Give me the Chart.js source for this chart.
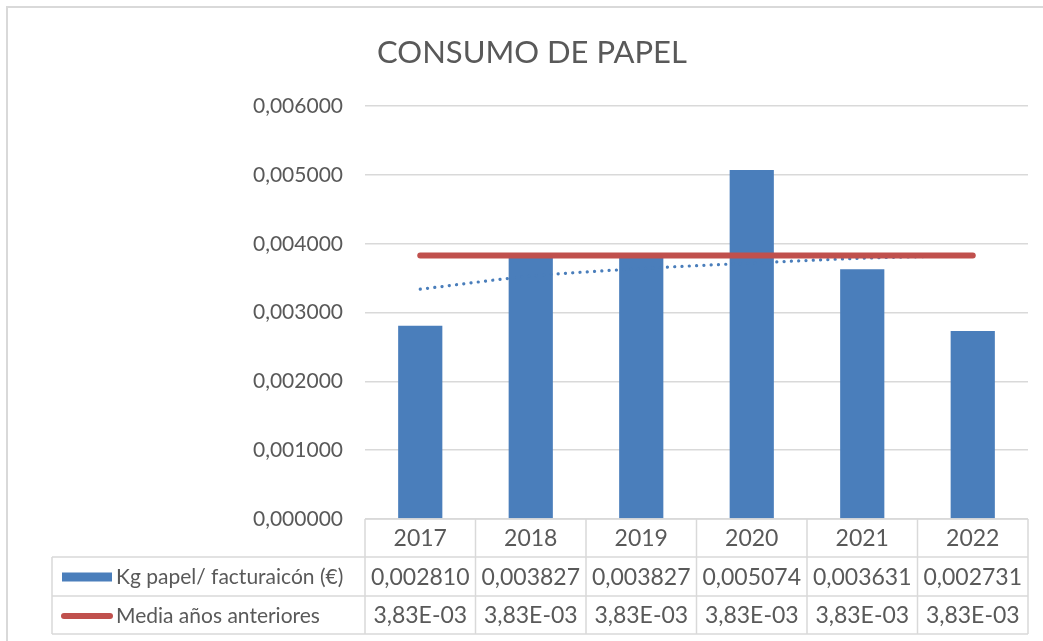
<!DOCTYPE html>
<html lang="es">
<head>
    <meta charset="UTF-8">
    <title>Consumo de papel</title>
    <style>
        html, body { margin: 0; padding: 0; background: #ffffff; }
        #wrap { position: relative; width: 1043px; height: 641px; }
    </style>
    <script src="https://cdn.jsdelivr.net/npm/chart.js"></script>
</head>
<body>
    <div id="wrap"><canvas id="grafico"></canvas></div>

    <script>
        // datos de la gráfica
        const anios = ['2017', '2018', '2019', '2020', '2021', '2022'];
        const kgPapel = [0.002810, 0.003827, 0.003827, 0.005074, 0.003631, 0.002731];
        const mediaAnteriores = [0.00383, 0.00383, 0.00383, 0.00383, 0.00383, 0.00383];
        const tendencia = [0.00334, 0.00353, 0.00364, 0.00372, 0.00379, 0.00383];
        const textoKg = ['0,002810', '0,003827', '0,003827', '0,005074', '0,003631', '0,002731'];
        const textoMedia = ['3,83E-03', '3,83E-03', '3,83E-03', '3,83E-03', '3,83E-03', '3,83E-03'];
        const nombreKg = 'Kg papel/ facturaicón (€)';
        const nombreMedia = 'Media años anteriores';

        const AZUL = '#4a7ebb';
        const ROJO = '#c0504d';
        const GRIS = '#595959';
        const BORDE = '#d9d9d9';
        const FUENTE = 'Lato, "Open Sans", sans-serif';

        // tabla de datos bajo el gráfico + marco
        const tablaDatos = {
            id: 'tablaDatos',
            beforeDraw(chart) {
                const ctx = chart.ctx;
                ctx.save();
                ctx.strokeStyle = BORDE;
                ctx.lineWidth = 2;
                ctx.beginPath();
                ctx.moveTo(7, 641);
                ctx.lineTo(7, 7);
                ctx.lineTo(1043, 7);
                ctx.stroke();
                ctx.restore();
            },
            afterDraw(chart) {
                const ctx = chart.ctx;
                const x = chart.scales.x;
                const area = chart.chartArea;
                const paso = x.getPixelForValue(1) - x.getPixelForValue(0);
                const filas = [area.bottom, area.bottom + 38, area.bottom + 77, area.bottom + 115];
                const izq = 52;

                ctx.save();
                ctx.strokeStyle = BORDE;
                ctx.lineWidth = 1.5;
                ctx.beginPath();
                // líneas horizontales
                ctx.moveTo(area.left, filas[0]); ctx.lineTo(area.right, filas[0]);
                for (let f = 1; f < 4; f++) {
                    ctx.moveTo(izq, filas[f]); ctx.lineTo(area.right, filas[f]);
                }
                // líneas verticales
                ctx.moveTo(izq, filas[1]); ctx.lineTo(izq, filas[3]);
                for (let i = 0; i <= anios.length; i++) {
                    const px = i < anios.length ? x.getPixelForValue(i) - paso / 2 : area.right;
                    ctx.moveTo(px, filas[0]); ctx.lineTo(px, filas[3]);
                }
                ctx.stroke();

                ctx.fillStyle = GRIS;
                ctx.font = '23px ' + FUENTE;
                ctx.textAlign = 'center';
                ctx.textBaseline = 'middle';
                anios.forEach((a, i) => {
                    const cx = x.getPixelForValue(i);
                    ctx.fillText(a, cx, (filas[0] + filas[1]) / 2 + 1);
                    ctx.fillText(textoKg[i], cx, (filas[1] + filas[2]) / 2 + 1);
                    ctx.fillText(textoMedia[i], cx, (filas[2] + filas[3]) / 2 + 1);
                });

                // claves de leyenda
                ctx.fillStyle = AZUL;
                ctx.fillRect(62, (filas[1] + filas[2]) / 2 - 4, 50, 9);
                ctx.strokeStyle = ROJO;
                ctx.lineWidth = 6;
                ctx.lineCap = 'round';
                ctx.beginPath();
                ctx.moveTo(64, (filas[2] + filas[3]) / 2 + 1);
                ctx.lineTo(110, (filas[2] + filas[3]) / 2 + 1);
                ctx.stroke();

                ctx.fillStyle = GRIS;
                ctx.font = '21px ' + FUENTE;
                ctx.textAlign = 'left';
                ctx.fillText(nombreKg, 116, (filas[1] + filas[2]) / 2 + 1);
                ctx.fillText(nombreMedia, 116, (filas[2] + filas[3]) / 2 + 1);
                ctx.restore();
            }
        };

        new Chart(document.getElementById('grafico'), {
            type: 'bar',
            data: {
                labels: anios,
                datasets: [
                    {
                        type: 'line',
                        label: nombreMedia,
                        data: mediaAnteriores,
                        borderColor: ROJO,
                        borderWidth: 6,
                        borderCapStyle: 'round',
                        pointRadius: 0,
                        order: 0
                    },
                    {
                        type: 'line',
                        label: 'Tendencia',
                        data: tendencia,
                        borderColor: AZUL,
                        borderWidth: 3.2,
                        borderDash: [0.1, 7.2],
                        borderCapStyle: 'round',
                        cubicInterpolationMode: 'monotone',
                        pointRadius: 0,
                        order: 1
                    },
                    {
                        label: nombreKg,
                        data: kgPapel,
                        backgroundColor: AZUL,
                        barPercentage: 0.4,
                        categoryPercentage: 1,
                        order: 2
                    }
                ]
            },
            options: {
                responsive: true,
                maintainAspectRatio: false,
                animation: false,
                layout: { padding: { left: 36, right: 15, top: 0, bottom: 122 } },
                plugins: {
                    legend: { display: false },
                    tooltip: { enabled: false },
                    title: {
                        display: true,
                        text: 'CONSUMO DE PAPEL',
                        color: GRIS,
                        font: { family: FUENTE, size: 31, weight: 'normal' },
                        padding: { top: 34, bottom: 35 }
                    }
                },
                scales: {
                    x: { display: false },
                    y: {
                        min: 0,
                        max: 0.006,
                        afterFit(scale) { scale.width = 329; },
                        border: { display: false },
                        grid: { color: BORDE, lineWidth: 1.5, drawTicks: false },
                        ticks: {
                            stepSize: 0.001,
                            padding: 22,
                            color: GRIS,
                            font: { family: FUENTE, size: 21 },
                            callback: v => v.toFixed(6).replace('.', ',')
                        }
                    }
                }
            },
            plugins: [tablaDatos]
        });
    </script>
</body>
</html>
